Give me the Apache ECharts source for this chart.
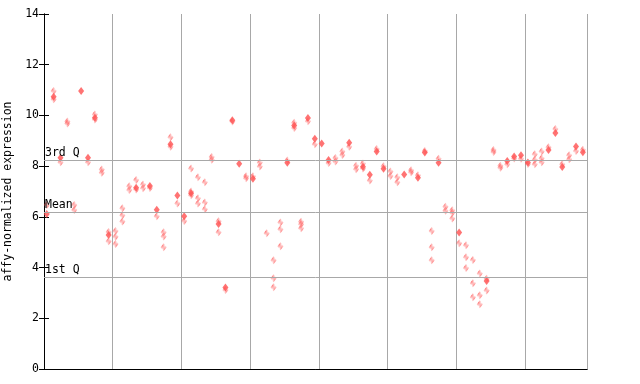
<!DOCTYPE html>
<html>
<head>
<meta charset="utf-8">
<script src="https://cdn.jsdelivr.net/npm/echarts@6/dist/echarts.min.js"></script>
<style>
html,body{margin:0;padding:0;background:#fff;}
#c{width:640px;height:384px;}
</style>
</head>
<body>
<div id="c"></div>
<script>
// one mean-like (filled) value per sample, null where absent
const filledValues = [
  6.11, 10.74, 8.33, null, null, 10.96, 8.33, 9.91, null, 5.28,
  null, null, null, 7.15, null, 7.22, 6.28, null, 8.86, 6.84,
  6.02, 6.93, null, null, null, 5.72, 3.21, 9.81, 8.09, null,
  7.50, null, null, null, null, 8.13, 9.60, null, 9.90, 9.08,
  8.89, 8.24, null, null, 8.92, null, 7.98, 7.66, 8.58, 7.90,
  null, null, 7.67, null, 7.54, 8.54, null, 8.13, null, null,
  5.38, null, null, null, 3.47, null, null, 8.20, 8.38, 8.43,
  8.14, null, null, 8.64, 9.31, 7.97, null, 8.77, 8.55
];
// replicate (checkered) values per sample
const replicateValues = [
  [6.47], [10.96, 10.64], [8.15], [9.76, 9.68], [6.47, 6.27], [], [8.15], [10.04, 9.84], [7.87, 7.74], [5.40, 5.04],
  [5.44, 5.22, 4.93], [6.34, 6.06, 5.82], [7.21, 7.06], [7.45, 7.08], [7.28, 7.13], [7.14], [6.02], [5.39, 5.23, 4.80], [9.14, 8.76], [6.53],
  [5.84], [7.91, 7.00, 6.85], [7.56, 6.73, 6.53], [7.36, 6.57, 6.30], [8.36, 8.25], [5.83, 5.39], [3.12], [9.76], [], [7.60, 7.52],
  [7.60], [8.14, 7.99], [5.35], [4.29, 3.58, 3.22], [5.78, 5.51, 4.84], [8.22], [9.71, 9.50], [5.81, 5.71, 5.55], [9.77], [8.86],
  [], [8.12], [8.32, 8.18], [8.58, 8.44], [8.76], [8.02, 7.88], [8.10, 7.91], [7.43], [8.68], [8.00],
  [7.79, 7.61], [7.56, 7.36], [], [7.84, 7.76], [7.64], [8.60], [5.44, 4.80, 4.29], [8.29], [6.40, 6.24], [6.26, 6.16, 5.94],
  [4.96], [4.88, 4.41, 3.98], [4.30, 3.38, 2.83], [3.77, 2.91, 2.55], [3.56, 3.10], [8.64, 8.56], [8.02, 7.94], [8.07], [8.30], [8.29],
  [8.08], [8.47, 8.25, 8.07], [8.58, 8.31, 8.15], [8.75], [9.46], [8.07], [8.43, 8.27], [8.60], [8.65]
];
const statNames = ['3rd Q', 'Mean', '1st Q'];
const statValues = [8.24, 6.20, 3.61];
const yTicks = [0, 2, 4, 6, 8, 10, 12, 14];

const RED = '#ff5050';
const FONT = 'DejaVu Sans Mono';

// checkered fill pattern
const pc = document.createElement('canvas');
pc.width = 2; pc.height = 2;
const pctx = pc.getContext('2d');
pctx.fillStyle = RED;
pctx.fillRect(0, 0, 1, 1);
pctx.fillRect(1, 1, 1, 1);

const OFFSET = 0.4;
const filledData = [];
filledValues.forEach((v, i) => { if (v !== null) filledData.push([i + OFFSET, v]); });
const repData = [];
replicateValues.forEach((arr, i) => arr.forEach(v => repData.push([i + OFFSET, v])));

const chart = echarts.init(document.getElementById('c'), null, {renderer: 'canvas'});
chart.setOption({
  animation: false,
  backgroundColor: '#fff',
  grid: {left: 44, right: 53, top: 14, bottom: 15, containLabel: false, outerBoundsMode: 'none'},
  xAxis: [{
    type: 'value', min: 0, max: 79, interval: 10,
    axisLine: {show: true, lineStyle: {color: '#000', width: 1}},
    axisTick: {show: false}, axisLabel: {show: false},
    splitLine: {show: true, lineStyle: {color: '#a8a8a8', width: 1}}
  }, {
    type: 'value', position: 'top', min: 0, max: 79,
    axisLine: {show: true, lineStyle: {color: '#000', width: 1}},
    axisTick: {show: false}, axisLabel: {show: false}, splitLine: {show: false}
  }],
  yAxis: [{
    type: 'value', min: 0, max: 14, interval: 2,
    name: 'affy-normalized expression', nameLocation: 'middle', nameGap: 24, nameRotate: 90,
    nameTextStyle: {fontFamily: FONT, fontSize: 11.5, color: '#000'},
    axisLine: {show: true, lineStyle: {color: '#000', width: 1}},
    axisTick: {show: true, inside: true, length: 5, lineStyle: {color: '#000'}},
    axisLabel: {fontFamily: FONT, fontSize: 11.5, color: '#000', margin: 5,
      formatter: v => yTicks.includes(v) ? String(v) : ''},
    splitLine: {show: false}
  }, {
    type: 'value', position: 'right', min: 0, max: 14, interval: 2,
    axisLine: {show: true, lineStyle: {color: '#000', width: 1}},
    axisTick: {show: true, inside: true, length: 5, lineStyle: {color: '#000'}},
    axisLabel: {show: false}, splitLine: {show: false}
  }],
  series: [{
    type: 'scatter', xAxisIndex: 0, yAxisIndex: 0,
    data: [], silent: true,
    markLine: {
      silent: true, symbol: 'none', animation: false,
      lineStyle: {color: '#a8a8a8', width: 1, type: 'solid'},
      label: {show: true, position: 'insideStartTop', distance: [1, 1],
        fontFamily: FONT, fontSize: 11.5, color: '#000',
        formatter: p => p.name},
      data: statValues.map((v, i) => ({name: statNames[i], yAxis: v}))
    }
  }, {
    type: 'scatter', data: repData, symbol: 'diamond', symbolSize: [6, 8],
    itemStyle: {color: {image: pc, repeat: 'repeat'}}, silent: true
  }, {
    type: 'scatter', data: filledData, symbol: 'diamond', symbolSize: [6, 8],
    itemStyle: {color: RED}, silent: true
  }]
});
</script>
</body>
</html>
